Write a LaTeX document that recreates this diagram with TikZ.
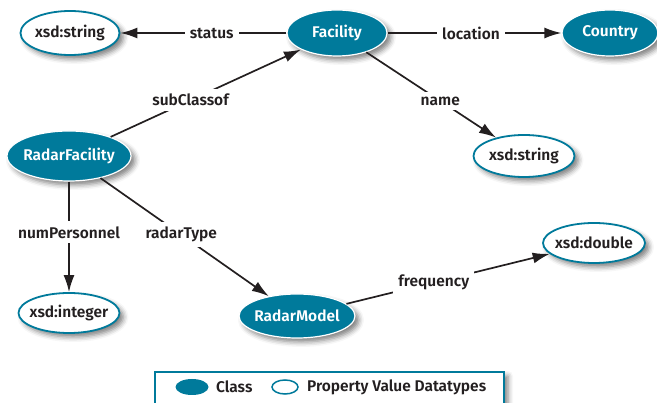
\documentclass[tikz,border=0pt]{standalone}
\usepackage{fontspec}
\setmainfont{Fira Sans SemiBold}
\usetikzlibrary{arrows.meta,shapes.geometric,shadows.blur}
\definecolor{ontoblue}{RGB}{0,122,155}
\definecolor{ink}{RGB}{35,31,32}
\begin{document}
\begin{tikzpicture}[x=1pt,y=-1pt,
  font=\fontsize{15.5}{17}\selectfont,
  shade/.style={blur shadow={shadow xshift=4pt,shadow yshift=-4pt,
      shadow blur radius=5pt,shadow opacity=50}},
  classnode/.style={ellipse, fill=ontoblue, draw=white, line width=1.2pt,
      text=white, inner xsep=-10pt, inner ysep=0pt},
  typenode/.style={ellipse, fill=white, draw=ontoblue, line width=1.8pt,
      text=ink, inner xsep=-10pt, inner ysep=0pt},
  rel/.style={draw=ink, line width=1.7pt, -{Latex[length=17pt,width=11pt]}},
  lbl/.style={fill=white, text=ink, inner sep=5pt}
]
\useasboundingbox (0,0) rectangle (657,403);
\clip (0,0) rectangle (657,403);

% classes
\node[classnode, shade, minimum width=100pt, minimum height=46pt] (facility) at (337,33) {Facility};
\node[classnode, shade, minimum width=96pt, minimum height=46pt] (country) at (610,33) {Country};
\node[classnode, shade, minimum width=124pt, minimum height=50pt] (radarfac) at (69,156) {RadarFacility};
\node[classnode, shade, minimum width=116pt, minimum height=44pt] (radarmodel) at (297,316) {RadarModel};

% datatypes
\node[typenode, shade, minimum width=99pt, minimum height=44pt] (statusval) at (70,33) {xsd:string};
\node[typenode, shade, minimum width=101pt, minimum height=42pt] (nameval) at (524,156) {xsd:string};
\node[typenode, shade, minimum width=101pt, minimum height=40pt] (intval) at (69,313) {xsd:integer};
\node[typenode, shade, minimum width=102pt, minimum height=40pt] (doubleval) at (594,243) {xsd:double};

% properties
\draw[rel] (facility) -- node[lbl, pos=0.45] {status} (statusval);
\draw[rel] (facility) -- node[lbl, pos=0.48] {location} (country);
\draw[rel] (radarfac) -- node[lbl, pos=0.42] {subClassof} (facility);
\draw[rel] (facility) -- node[lbl, pos=0.57] {name} (nameval);
\draw[rel] (radarfac) -- node[lbl, pos=0.46] {numPersonnel} (intval);
\draw[rel] (radarfac) -- node[lbl, pos=0.48] {radarType} (radarmodel);
\draw[rel] (radarmodel) -- node[lbl, pos=0.43] {frequency} (doubleval);

% key
\node[draw=ontoblue, fill=white, line width=1.8pt, shade,
      minimum width=349pt, minimum height=50pt] (legend) at (329.5,397) {};
\node[classnode, draw=none, minimum width=33pt, minimum height=16pt] (keyclass) at (192,387) {};
\node[anchor=west, text=ink, inner sep=2pt] (keyclasstext) at (214,387) {Class};
\node[typenode, line width=1.5pt, minimum width=26pt, minimum height=14pt] (keytype) at (285,387) {};
\node[anchor=west, text=ink, inner sep=2pt] (keytypetext) at (305,387) {Property Value Datatypes};
\end{tikzpicture}
\end{document}
